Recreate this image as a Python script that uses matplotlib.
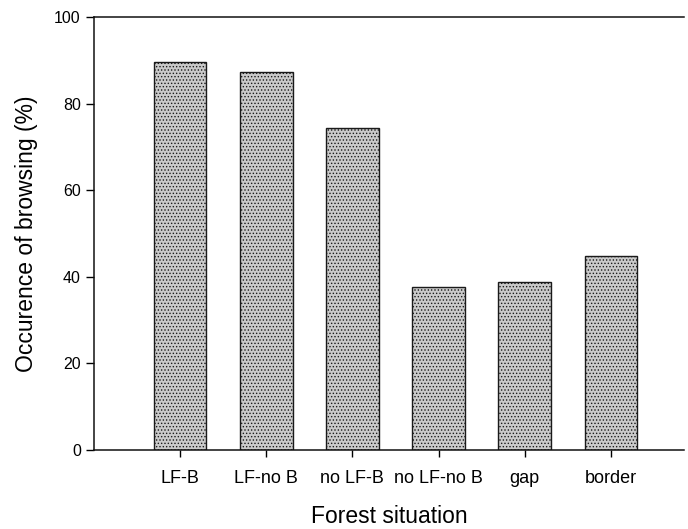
import matplotlib.pyplot as plt

plt.rcParams['font.family'] = ['Liberation Sans', 'DejaVu Sans']
plt.rcParams['hatch.color'] = '#9c9c9c'
plt.rcParams['hatch.linewidth'] = 0.6

# values
situations = ['LF-B', 'LF-no B', 'no LF-B', 'no LF-no B', 'gap', 'border']
browsing = [89.6, 87.3, 74.4, 37.7, 38.8, 44.8]

fig = plt.figure(figsize=(6.88, 5.29), dpi=100)
ax = fig.add_axes([94 / 688, 79 / 529, 590 / 688, 433 / 529])

x = range(len(situations))
ax.bar(x, browsing, width=0.61, color='#cacaca', edgecolor='#1a1a1a',
       linewidth=1.0, hatch='.....')

ax.set_xlim(-1.0, 5.85)
ax.set_ylim(0, 100)
ax.set_yticks([0, 20, 40, 60, 80, 100])
ax.set_xticks(list(x))
ax.set_xticklabels(situations)

ax.spines['right'].set_visible(False)
for s in ['left', 'top', 'bottom']:
    ax.spines[s].set_linewidth(1.1)
    ax.spines[s].set_color('#111111')

ax.tick_params(axis='y', direction='out', length=6, width=1, pad=3.5, labelsize=11.5)
ax.tick_params(axis='x', direction='out', length=5, width=1, pad=9.5, labelsize=13)

ax.set_ylabel('Occurence of browsing (%)', fontsize=16.5, labelpad=12)
ax.set_xlabel('Forest situation', fontsize=16.5, labelpad=13)

fig.savefig('out.png', dpi=100)
